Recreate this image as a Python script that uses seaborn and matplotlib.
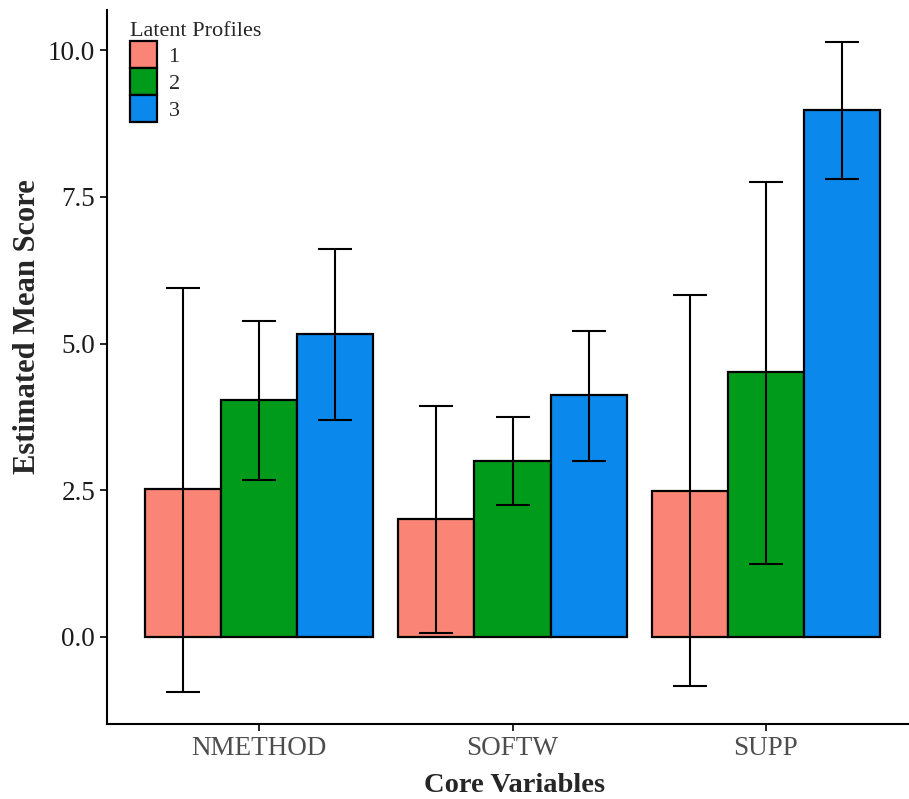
import numpy as np
import pandas as pd
import seaborn as sns
import matplotlib.pyplot as plt
from matplotlib.patches import Patch

# values
variables = ['NMETHOD', 'SOFTW', 'SUPP']
profiles = ['1', '2', '3']
means = {
    '1': [2.52, 2.01, 2.49],
    '2': [4.04, 2.99, 4.51],
    '3': [5.16, 4.12, 8.98],
}
lower = {
    '1': [-0.94, 0.07, -0.85],
    '2': [2.67, 2.24, 1.24],
    '3': [3.69, 2.99, 7.81],
}
upper = {
    '1': [5.95, 3.93, 5.83],
    '2': [5.39, 3.74, 7.76],
    '3': [6.62, 5.22, 10.14],
}
colors = ['#FA8576', '#009B1A', '#0A88EC']


def build_frame():
    rows = []
    for p in profiles:
        for i, v in enumerate(variables):
            rows.append({'variable': v, 'profile': p, 'mean': means[p][i],
                         'lo': lower[p][i], 'hi': upper[p][i]})
    return pd.DataFrame(rows)


df = build_frame()

sns.set_theme(style='ticks')
plt.rcParams['font.family'] = ['Liberation Serif', 'DejaVu Serif']

fig = plt.figure(figsize=(9.09, 7.99), dpi=100)
ax = fig.add_axes([107 / 909, 75 / 799, 811 / 909, 714 / 799])

sns.barplot(data=df, x='variable', y='mean', hue='profile', order=variables,
            hue_order=profiles, palette=colors, width=0.9, gap=0,
            errorbar=None, edgecolor='black', linewidth=1.6, saturation=1,
            legend=False, ax=ax)

# error bars centred on each bar
for p, cont in zip(profiles, ax.containers):
    sub = df[df['profile'] == p].set_index('variable').loc[variables]
    xs = [b.get_x() + b.get_width() / 2 for b in cont]
    yerr = [sub['mean'] - sub['lo'], sub['hi'] - sub['mean']]
    ax.errorbar(xs, sub['mean'], yerr=yerr, fmt='none', ecolor='black',
                elinewidth=1.5, capsize=12, capthick=1.5, zorder=5)

ax.set_xlim(-0.6, 2.6)
ax.set_ylim(-1.49, 10.69)
ax.set_yticks([0, 2.5, 5, 7.5, 10])
ax.set_yticklabels(['0.0', '2.5', '5.0', '7.5', '10.0'])
ax.tick_params(axis='both', labelsize=19.5, colors='black', labelcolor='#4D4D4D',
               length=5, width=1.2)
ax.tick_params(axis='y', labelcolor='#1a1a1a')
for s in ['top', 'right']:
    ax.spines[s].set_visible(False)
for s in ['left', 'bottom']:
    ax.spines[s].set_color('black')
    ax.spines[s].set_linewidth(1.5)

ax.set_xlabel('Core Variables', fontsize=20.5, fontweight='bold')
ax.set_ylabel('Estimated Mean Score', fontsize=22, fontweight='bold')
ax.xaxis.set_label_coords(0.503, -0.068)
ax.yaxis.set_label_coords(-0.080, 0.556)

handles = [Patch(facecolor=c, edgecolor='black', linewidth=1.6) for c in colors]
leg = ax.legend(handles, profiles, title='Latent Profiles', loc='upper left',
                bbox_to_anchor=(0.028, 0.983), frameon=False, fontsize=16,
                title_fontsize=16, handlelength=1.25, handleheight=1.5,
                handletextpad=0.5, labelspacing=0.0, borderaxespad=0,
                borderpad=0)
leg._legend_box.align = 'left'

fig.savefig('out.png', dpi=100)
